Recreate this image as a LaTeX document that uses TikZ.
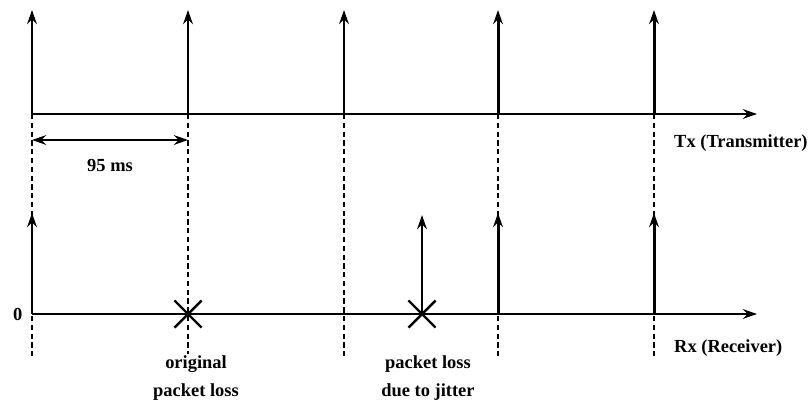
\documentclass[tikz,border=0pt]{standalone}
\usepackage{fontspec}
\setmainfont{Liberation Serif}
\usetikzlibrary{arrows.meta}
\usetikzlibrary{shapes.misc}

\begin{document}
\begin{tikzpicture}[>={Stealth[length=8pt, width=5.5pt]}, x=0.02cm, y=-0.02cm,
  font=\bfseries\fontsize{10.5}{16}\selectfont,
  pulse/.style={->, line width=1.7pt},
  axis/.style={->, line width=1.3pt},
  guide/.style={line width=1.2pt, dash pattern=on 3pt off 2pt},
  loss/.style={cross out, draw, line width=1.4pt, minimum size=14pt, inner sep=0pt}]
\useasboundingbox (0,0) rectangle (811,400);

% time instants on the transmitter axis
\coordinate (t1) at (32,114);
\coordinate (t2) at (188,114);
\coordinate (t3) at (344,114);
\coordinate (t4) at (498,114);
\coordinate (t5) at (654,114);
\coordinate (tend) at (757,114);
% same instants on the receiver axis
\coordinate (r1) at (32,314);
\coordinate (r2) at (188,314);
\coordinate (r3) at (344,314);
\coordinate (r4) at (498,314);
\coordinate (r5) at (654,314);
\coordinate (rj) at (422,314);
\coordinate (rend) at (757,314);
% lower ends of the guide lines
\coordinate (b1) at (32,358);
\coordinate (b2) at (188,354);
\coordinate (b3) at (344,358);
\coordinate (b4) at (498,358);
\coordinate (b5) at (654,358);
% pulse tips
\coordinate (p1) at (32,10);
\coordinate (p2) at (188,10);
\coordinate (p3) at (344,10);
\coordinate (p4) at (498,10);
\coordinate (p5) at (654,10);
\coordinate (q1) at (32,213);
\coordinate (qj) at (422,215);
\coordinate (q4) at (498,213);
\coordinate (q5) at (654,213);

% guides
\draw[guide] (t1) -- (b1);
\draw[guide] (t2) -- (b2);
\draw[guide] (t3) -- (b3);
\draw[guide] (t4) -- (b4);
\draw[guide] (t5) -- (b5);

% Tx
\draw[axis] (t1) -- (tend);
\draw[pulse] (t1) -- (p1);
\draw[pulse] (t2) -- (p2);
\draw[pulse] (t3) -- (p3);
\draw[pulse] (t4) -- (p4);
\draw[pulse] (t5) -- (p5);
\node (txlabel) [anchor=west] at (668,143) {Tx (Transmitter)};

% period
\coordinate (d1) at (32,140);
\coordinate (d2) at (188,140);
\draw[<->, line width=1.2pt] (d1) -- (d2);
\node (period) at (110,165) {95 ms};

% Rx
\draw[axis] (r1) -- (rend);
\draw[pulse] (r1) -- (q1);
\draw[pulse] (rj) -- (qj);
\draw[pulse] (r4) -- (q4);
\draw[pulse] (r5) -- (q5);
\node (zero) [left=2pt] at (r1) {0};
\node (rxlabel) [anchor=west] at (668,348) {Rx (Receiver)};

% losses
\node (lossA) [loss] at (r2) {};
\node (lossB) [loss] at (rj) {};
\node (origtext) [align=center, anchor=north] at (196,349) {original\\packet loss};
\node (jittext) [align=center, anchor=north] at (428,349) {packet loss\\due to jitter};
\end{tikzpicture}
\end{document}
